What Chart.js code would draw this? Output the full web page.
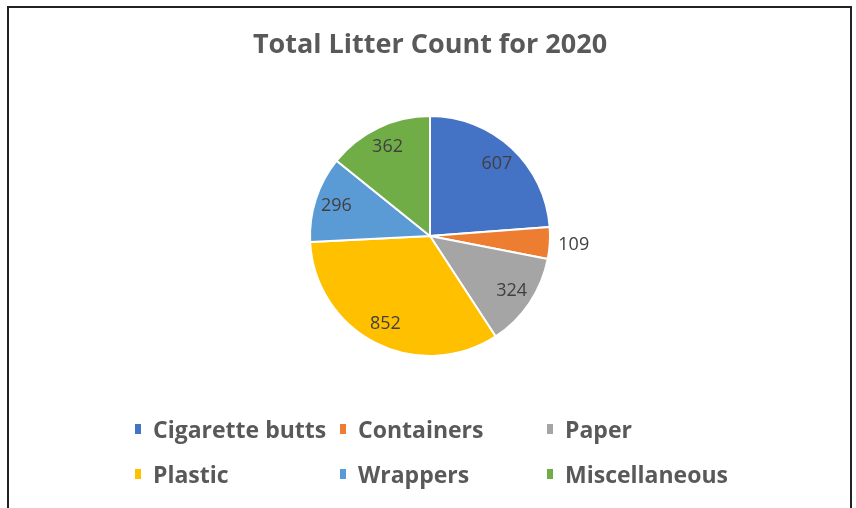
<!DOCTYPE html>
<html>
<head>
<meta charset="utf-8">
<script src="https://cdn.jsdelivr.net/npm/chart.js@4"></script>
<style>
  html, body { margin: 0; padding: 0; background: #fff; }
  #wrap { position: relative; width: 856px; height: 508px; overflow: hidden; }
  #frame { position: absolute; left: 7px; top: 6px; width: 841px; height: 520px;
           border: 2px solid #222; border-bottom: none; box-sizing: content-box; }
  #chart { position: absolute; left: 0; top: 0; }
  #legend { position: absolute; left: 0; top: 0; width: 856px; height: 508px; pointer-events: none;
            font-family: "Open Sans", Lato, sans-serif; font-weight: bold; font-size: 23px; color: #595959; }
  .item { position: absolute; white-space: nowrap; line-height: 26px; }
  .mk { display: inline-block; width: 6px; height: 10px; margin-right: 12px; vertical-align: 4px; }
</style>
</head>
<body>
<div id="wrap">
  <div id="frame"></div>
  <canvas id="chart" width="856" height="508"></canvas>
  <div id="legend"></div>
</div>
<script>
const categories = ["Cigarette butts", "Containers", "Paper", "Plastic", "Wrappers", "Miscellaneous"];
const counts = [607, 109, 324, 852, 296, 362];
const colors = ["#4472C4", "#ED7D31", "#A5A5A5", "#FFC000", "#5B9BD5", "#70AD47"];
const chartTitle = "Total Litter Count for 2020";

const labelPlugin = {
  id: 'sliceLabels',
  afterDatasetsDraw(chart) {
    const ctx = chart.ctx;
    const meta = chart.getDatasetMeta(0);
    const total = counts.reduce((a, b) => a + b, 0);
    ctx.save();
    ctx.font = '18px "Open Sans", Lato, sans-serif';
    ctx.fillStyle = '#404040';
    ctx.textAlign = 'center';
    ctx.textBaseline = 'middle';
    meta.data.forEach((arc, i) => {
      const p = arc.getProps(['x', 'y', 'startAngle', 'endAngle', 'outerRadius'], true);
      const mid = (p.startAngle + p.endAngle) / 2;
      const small = counts[i] / total < 0.06;
      const r = small ? p.outerRadius + 24 : p.outerRadius * 0.82;
      ctx.fillText(String(counts[i]), p.x + Math.cos(mid) * r, p.y + Math.sin(mid) * r);
    });
    ctx.restore();
  }
};

new Chart(document.getElementById('chart'), {
  type: 'pie',
  data: {
    labels: categories,
    datasets: [{
      data: counts,
      backgroundColor: colors,
      borderColor: '#ffffff',
      borderWidth: 2
    }]
  },
  options: {
    responsive: false,
    animation: false,
    layout: { padding: { left: 4, right: 0, top: 0, bottom: 151 } },
    plugins: {
      legend: { display: false },
      tooltip: { enabled: false },
      title: {
        display: true,
        text: chartTitle,
        color: '#595959',
        font: { family: '"Open Sans", Lato, sans-serif', size: 27, weight: 'bold' },
        padding: { top: 29, bottom: 53.6 }
      }
    }
  },
  plugins: [labelPlugin]
});

// HTML legend in a 3-column grid
const legend = document.getElementById('legend');
const textX = [153, 358, 565];
const rowTop = [416, 461];
categories.forEach((name, i) => {
  const d = document.createElement('div');
  d.className = 'item';
  d.style.left = (textX[i % 3] - 18) + 'px';
  d.style.top = rowTop[Math.floor(i / 3)] + 'px';
  const m = document.createElement('span');
  m.className = 'mk';
  m.style.background = colors[i];
  d.appendChild(m);
  d.appendChild(document.createTextNode(name));
  legend.appendChild(d);
});
</script>
</body>
</html>
